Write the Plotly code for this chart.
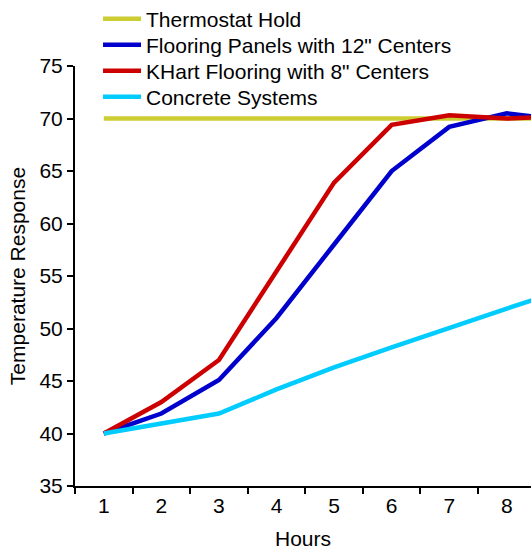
import plotly.graph_objects as go

hours = ["1", "2", "3", "4", "5", "6", "7", "8", "9"]
thermostat = [70, 70, 70, 70, 70, 70, 70, 70, 70]
panels_12 = [40, 41.9, 45.1, 51, 58, 65, 69.2, 70.5, 69.8]
khart_8 = [40, 43, 47, 55.5, 63.9, 69.4, 70.3, 70.0, 70.2]
concrete = [40, 41, 41.9, 44.2, 46.3, 48.2, 50.1, 51.9, 53.7]

series = [
    ("Thermostat Hold", thermostat, "#CCCC33"),
    ("Flooring Panels with 12\" Centers", panels_12, "#0000CC"),
    ("KHart Flooring with 8\" Centers", khart_8, "#CC0000"),
    ("Concrete Systems", concrete, "#00CCFF"),
]

W, H = 531, 550
legend_names = ["legend", "legend2", "legend3", "legend4"]
legend_y_px = [19, 45, 71, 97]

fig = go.Figure()
for i, (name, vals, color) in enumerate(series):
    fig.add_trace(go.Scatter(
        x=hours, y=vals, mode="lines", name=name,
        line=dict(color=color, width=4.5),
        legend=legend_names[i],
    ))

font = "Liberation Sans, Arial, sans-serif"
layout = dict(
    width=W, height=H,
    margin=dict(l=75, r=0, t=66, b=64, autoexpand=False),
    paper_bgcolor="white", plot_bgcolor="white",
    font=dict(family=font, size=21, color="black"),
    showlegend=True,
    xaxis=dict(
        type="category", range=[-0.5, 7.42],
        showline=True, linecolor="black", linewidth=2,
        ticks="outside", ticklen=6, tickwidth=2, tickcolor="black",
        tickson="boundaries",
        showgrid=False, zeroline=False,
        title=dict(text="Hours", standoff=23, font=dict(size=21)),
        automargin=False,
    ),
    yaxis=dict(
        range=[35, 75], dtick=5,
        showline=True, linecolor="black", linewidth=2,
        ticks="outside", ticklen=6, tickwidth=2, tickcolor="black",
        showgrid=False, zeroline=False,
        title=dict(text="Temperature Response", standoff=8, font=dict(size=21)),
        automargin=False,
    ),
)
for ln, ypx in zip(legend_names, legend_y_px):
    layout[ln] = dict(
        x=0.0505, y=1 - ypx / H, xref="paper", yref="container",
        xanchor="left", yanchor="middle",
        bgcolor="rgba(0,0,0,0)", font=dict(size=21), itemwidth=38,
    )
fig.update_layout(**layout)

fig.write_html(
    "out.html",
    config={"displayModeBar": False},
    post_script="document.body.style.margin='0';document.body.style.overflow='hidden';",
)
